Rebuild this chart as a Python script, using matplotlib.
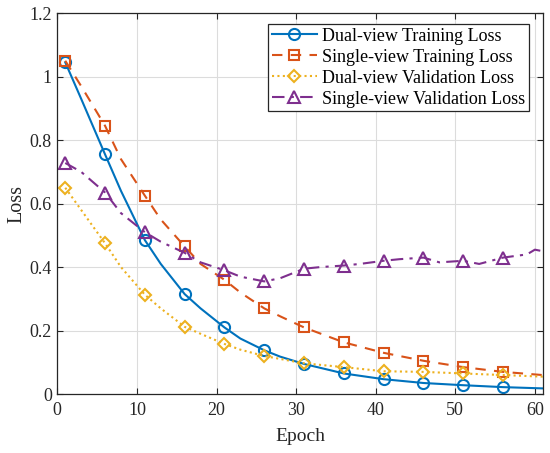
import matplotlib
matplotlib.use("Agg")
import matplotlib.pyplot as plt
from matplotlib.ticker import FuncFormatter

# ---- data ----
dual_train_epochs = [1, 3, 6, 8, 11, 13, 16, 18, 21, 23, 26, 28, 31, 36, 41, 46, 51, 56, 61]
dual_train_loss = [1.045, 0.93, 0.755, 0.64, 0.485, 0.41, 0.315, 0.27, 0.21, 0.175, 0.138, 0.118,
                   0.095, 0.065, 0.047, 0.035, 0.028, 0.022, 0.018]

single_train_epochs = [1, 3, 6, 8, 11, 13, 16, 18, 21, 23, 26, 28, 31, 36, 41, 46, 51, 56, 61]
single_train_loss = [1.05, 0.97, 0.845, 0.74, 0.625, 0.55, 0.465, 0.41, 0.36, 0.32, 0.27, 0.245,
                     0.21, 0.163, 0.13, 0.105, 0.085, 0.07, 0.06]

dual_val_epochs = [1, 3, 6, 8, 11, 13, 16, 18, 21, 23, 26, 31, 36, 41, 46, 51, 56, 61]
dual_val_loss = [0.65, 0.58, 0.475, 0.40, 0.313, 0.27, 0.212, 0.19, 0.158, 0.14, 0.12,
                 0.097, 0.085, 0.072, 0.07, 0.065, 0.06, 0.055]

single_val_epochs = [1, 3, 6, 8, 9, 11, 13, 16, 18, 21, 23, 26, 28, 31, 33, 36, 38, 41, 43,
                     46, 48, 51, 53, 56, 59, 60, 61]
single_val_loss = [0.728, 0.70, 0.635, 0.57, 0.55, 0.51, 0.48, 0.445, 0.415, 0.39, 0.37, 0.355,
                   0.365, 0.395, 0.40, 0.405, 0.41, 0.42, 0.425, 0.43, 0.415, 0.42, 0.41,
                   0.43, 0.44, 0.455, 0.45]

marker_epochs = [1, 6, 11, 16, 21, 26, 31, 36, 41, 46, 51, 56]

labels = ["Dual-view Training Loss", "Single-view Training Loss",
          "Dual-view Validation Loss", "Single-view Validation Loss"]
x_ticks = [0, 10, 20, 30, 40, 50, 60]
y_ticks = [0, 0.2, 0.4, 0.6, 0.8, 1.0, 1.2]

plt.rcParams['font.family'] = ['Liberation Serif', 'DejaVu Serif']

fig = plt.figure(figsize=(5.5, 4.53), dpi=100)
ax = fig.add_axes([0.1042, 0.130, 0.8828, 0.8410])

def mk(epochs):
    return [i for i, e in enumerate(epochs) if e in marker_epochs]

series = [
    (dual_train_epochs, dual_train_loss, '#0072BD', '-', 'o'),
    (single_train_epochs, single_train_loss, '#D95319', (0, (5, 4)), 's'),
    (dual_val_epochs, dual_val_loss, '#EDB120', (0, (1, 1.6)), 'D'),
    (single_val_epochs, single_val_loss, '#7E2F8E', (0, (6, 3, 1.5, 3)), '^'),
]
msize = {'o': 8, 's': 6.5, 'D': 6.5, '^': 8}
for (ep, val, col, ls, m), lab in zip(series, labels):
    ax.plot(ep, val, color=col, linestyle=ls, linewidth=1.5, marker=m,
            markevery=mk(ep), markersize=msize[m], markerfacecolor='none',
            markeredgewidth=1.5, label=lab)

ax.set_xlim(0, 61)
ax.set_ylim(0, 1.2)
ax.set_xticks(x_ticks)
ax.set_yticks(y_ticks)
ax.yaxis.set_major_formatter(FuncFormatter(lambda v, p: ('%g' % round(v, 2))))
ax.grid(True, color='#DCDCDC', linewidth=0.8)
ax.set_axisbelow(True)
ax.tick_params(direction='in', top=True, right=True, labelsize=13, length=4,
               color='#262626', labelcolor='#262626')
ax.tick_params(axis='x', pad=6)
ax.tick_params(axis='y', pad=4)
for s in ax.spines.values():
    s.set_color('#262626')
    s.set_linewidth(0.9)
ax.set_xlabel('Epoch', fontsize=14, color='#262626', labelpad=6)
ax.set_ylabel('Loss', fontsize=14.5, color='#262626', labelpad=2)

leg = ax.legend(loc='upper right', bbox_to_anchor=(0.9716, 0.971), fontsize=13,
                frameon=True, fancybox=False, edgecolor='#262626', framealpha=1,
                handlelength=2.5, handletextpad=0.3, borderpad=0.2, labelspacing=0.22,
                borderaxespad=0)
leg.get_frame().set_linewidth(0.9)

fig.savefig('out.png', dpi=100)
